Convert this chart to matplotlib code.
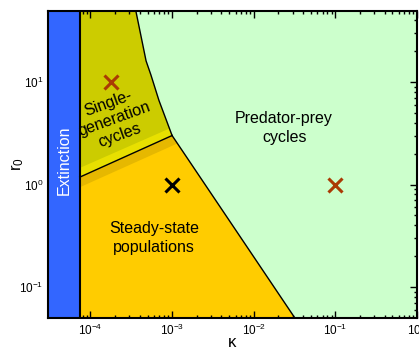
"""
Phase diagram of population dynamics in the (kappa, r0) plane.
"""

import numpy as np
import matplotlib.pyplot as plt
from matplotlib.ticker import LogLocator, NullFormatter

plt.rcParams['font.family'] = ['Liberation Sans', 'DejaVu Sans']
plt.rcParams['mathtext.default'] = 'regular'

# axis ranges (log10)
kappa_lim = (10 ** -4.52, 10 ** 0.0)
r0_lim = (10 ** -1.30, 10 ** 1.69)

# extinction threshold in kappa
kappa_ext = 7.4e-5

# single-generation cycle boundary (upper right edge of olive region)
osc_kappa = [3.6e-4, 4.8e-4, 5.5e-4, 6.9e-4, 1.0e-3]
osc_r0 = [49.0, 16.0, 11.7, 6.6, 3.0]

# steady state / predator-prey boundary
pp_kappa = [1.0e-3, 0.032]
pp_r0 = [3.0, 0.05]

# stability line between steady state and single-generation cycles
stab_kappa = [kappa_ext, 1.0e-3]
stab_r0 = [1.18, 3.0]

# transition bands on either side of the stability line
band_hi_kappa = [kappa_ext, 9.2e-4, 1.0e-3, kappa_ext]
band_hi_r0 = [1.45, 3.5, 3.0, 1.18]
band_lo_kappa = [kappa_ext, 1.0e-3, 1.16e-3, kappa_ext]
band_lo_r0 = [1.18, 3.0, 2.51, 0.94]

# simulated parameter sets
pts_kappa = [1.8e-4, 1.0e-3, 0.1]
pts_r0 = [10.0, 1.0, 1.0]
pts_color = ['#AA3A04', 'black', '#AA3A04']

fig = plt.figure(figsize=(4.19, 3.49), dpi=100)
ax = fig.add_axes([48 / 419, 1 - 318 / 349, 369 / 419, 307 / 349])
ax.set_xscale('log')
ax.set_yscale('log')
ax.set_xlim(kappa_lim)
ax.set_ylim(r0_lim)

kmin, kmax = kappa_lim
rmin, rmax = r0_lim

# predator-prey background
ax.fill([kmin, kmax, kmax, kmin], [rmin, rmin, rmax, rmax],
        color='#CCFFCC', lw=0, zorder=0)
# single-generation cycles
ax.fill([kappa_ext] + osc_kappa + [kappa_ext],
        [rmax] + osc_r0 + [stab_r0[0]],
        color='#CCCC00', lw=0, zorder=1)
# steady state
ax.fill([kappa_ext] + pp_kappa + [kappa_ext],
        [stab_r0[0]] + pp_r0 + [rmin],
        color='#FFCC00', lw=0, zorder=1)
ax.fill(band_hi_kappa, band_hi_r0, color='#E8E000', lw=0, zorder=2)
ax.fill(band_lo_kappa, band_lo_r0, color='#E6B800', lw=0, zorder=2)
# extinction
ax.fill([kmin, kappa_ext, kappa_ext, kmin], [rmin, rmin, rmax, rmax],
        color='#3366FF', lw=0, zorder=2)

# boundaries
ax.plot([kappa_ext, kappa_ext], [rmin, rmax], color='black', lw=1.5, zorder=3)
ax.plot(osc_kappa, osc_r0, color='black', lw=1, zorder=3)
ax.plot(pp_kappa, pp_r0, color='black', lw=1, zorder=3)
ax.plot(stab_kappa, stab_r0, color='black', lw=1, zorder=3)

for k, r, c in zip(pts_kappa, pts_r0, pts_color):
    ax.plot(k, r, marker='x', ms=10, mew=2.2, color=c, zorder=4)

ax.text(4.8e-5, 1.73, 'Extinction', rotation=90, color='white',
        fontsize=11.5, ha='center', va='center', zorder=5)
ax.text(1.95e-4, 4.3, 'Single-\ngeneration\ncycles', rotation=20,
        fontsize=11.5, ha='center', va='center', linespacing=1.2, zorder=5)
ax.text(0.0236, 3.55, 'Predator-prey\ncycles', fontsize=11.5,
        ha='center', va='center', linespacing=1.35, zorder=5)
ax.text(6.0e-4, 0.30, 'Steady-state\npopulations', fontsize=11.5,
        ha='center', va='center', linespacing=1.35, zorder=5)

ax.set_xlabel('κ', fontsize=12, labelpad=-2)
ax.set_ylabel('r$_0$', fontsize=12, labelpad=-5)

ax.xaxis.set_minor_locator(LogLocator(subs=np.arange(2, 10)))
ax.yaxis.set_minor_locator(LogLocator(subs=np.arange(2, 10)))
ax.xaxis.set_minor_formatter(NullFormatter())
ax.yaxis.set_minor_formatter(NullFormatter())
ax.tick_params(which='both', direction='in', top=True, right=True,
               labelsize=8.5, width=1)
ax.tick_params(which='major', length=5)
ax.tick_params(which='minor', length=2.5)
for sp in ax.spines.values():
    sp.set_linewidth(1.5)
    sp.set_zorder(6)

fig.savefig('out.png', dpi=100)
